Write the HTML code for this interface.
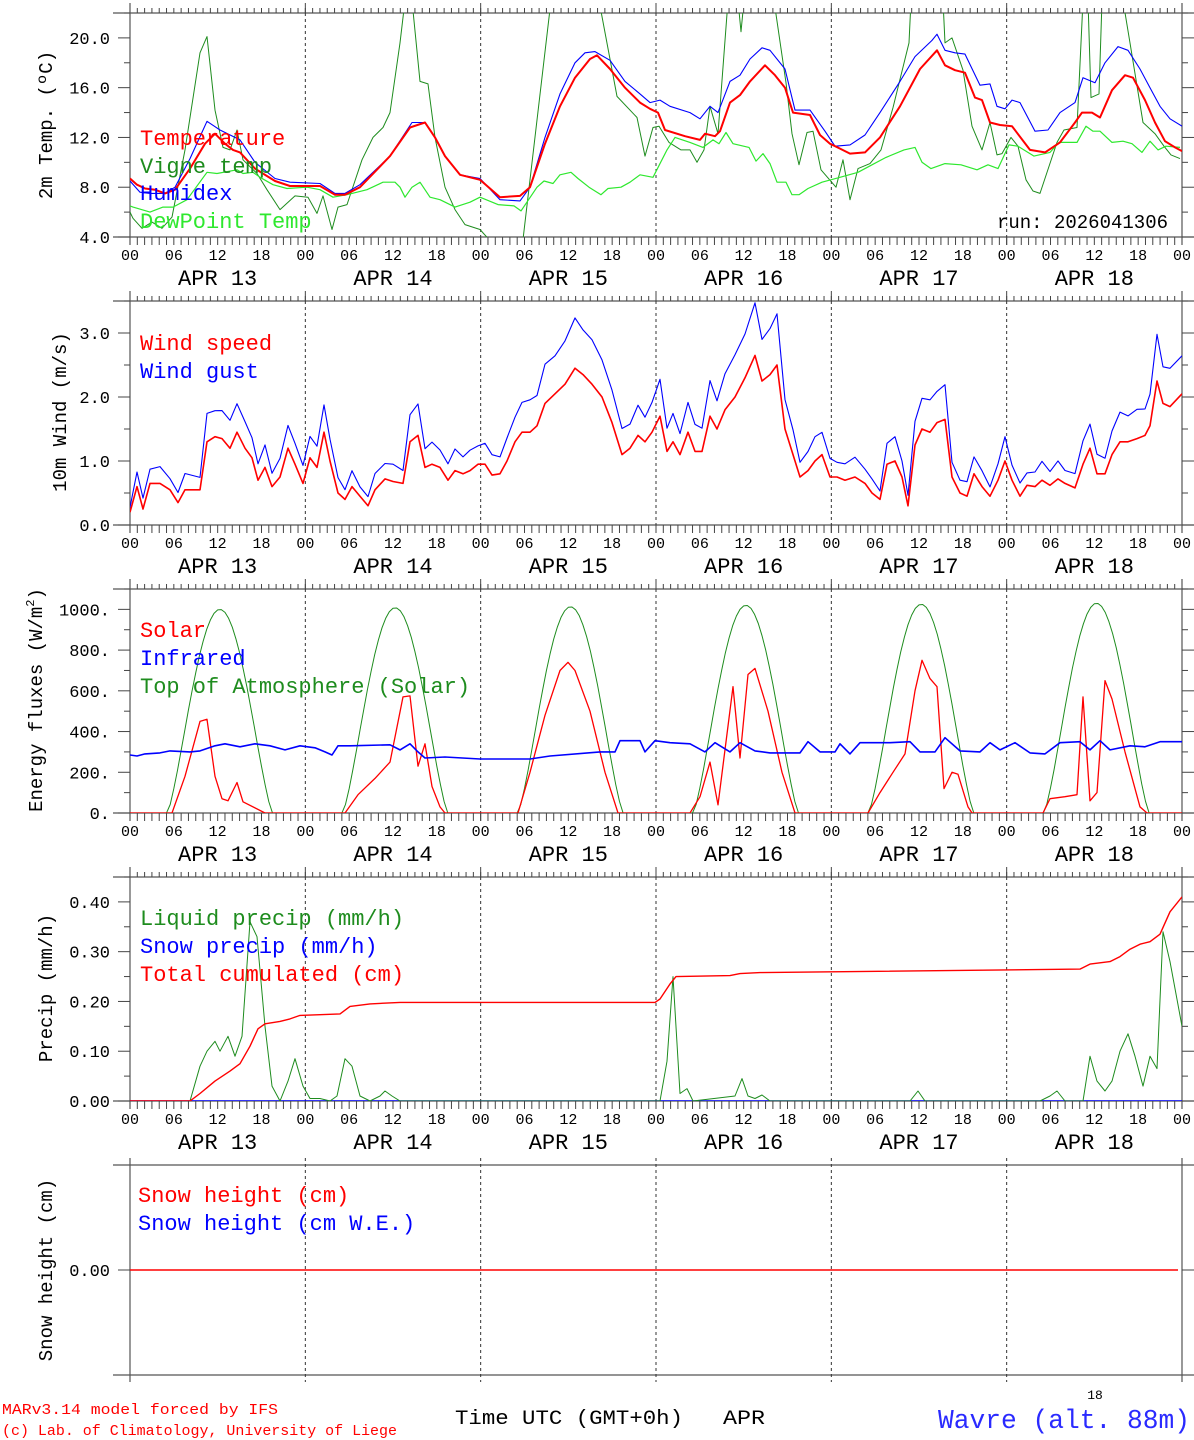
<!DOCTYPE html>
<html><head><meta charset="utf-8"><style>
html,body{margin:0;padding:0;background:#fff}
svg{display:block}
text{font-family:"Liberation Mono","DejaVu Sans Mono",monospace}
</style></head><body>
<svg id="s" xmlns="http://www.w3.org/2000/svg" width="1194" height="1440" viewBox="0 0 1194 1440"></svg>
<script>
const S=document.getElementById('s');const NS='http://www.w3.org/2000/svg';
let out='';
const X0=130,X1=1182,HW=(X1-X0)/144;
function L(x1,y1,x2,y2,st){out+=`<line x1="${x1}" y1="${y1}" x2="${x2}" y2="${y2}" style="${st||'stroke:#444;stroke-width:1'}"/>`;}
function T(x,y,t,sz,col,anch,extra){out+=`<text x="${x}" y="${y}" font-size="${sz}" fill="${col||'#000'}" text-anchor="${anch||'start'}" ${extra||''}>${t}</text>`;}
function frame(top,bot,hourly,labels){
  L(113,top,1194,top,'stroke:#555;stroke-width:1.2');L(113,bot,1194,bot,'stroke:#555;stroke-width:1.2');
  L(X0,top-10,X0,bot+8,'stroke:#555;stroke-width:1.2');L(X1,top-10,X1,bot+8,'stroke:#555;stroke-width:1.2');
  for(let d=1;d<6;d++){const x=X0+d*24*HW;L(x,top,x,bot,'stroke:#333;stroke-width:1;stroke-dasharray:3,3');L(x,top-10,x,top,'stroke:#444');L(x,bot,x,bot+8,'stroke:#444');}
  if(hourly){for(let h=1;h<144;h++){const x=X0+h*HW;L(x,top-5,x,top,'stroke:#444;stroke-width:1');L(x,bot,x,bot+8,'stroke:#444;stroke-width:1');}}
  if(labels){
    const hl=['00','06','12','18'];
    for(let h=0;h<=144;h+=6){T(X0+h*HW,bot+23,hl[(h/6)%4],15,'#000','middle');}
    for(let d=0;d<6;d++){T(X0+(d*24+12)*HW,bot+48,'APR 1'+(3+d),22,'#000','middle');}
  }
}
function yticks(top,bot,vmin,vmax,major,minor,fmt,fs){
  const Y=v=>bot-(v-vmin)/(vmax-vmin)*(bot-top);
  for(let v=vmin;v<=vmax+1e-9;v+=minor){const y=Y(v);if(y<top-0.5)continue;
    const isMaj=Math.abs(v/major-Math.round(v/major))<1e-6;
    L(isMaj?118:124,y,X0,y,'stroke:#444');L(X1,y,isMaj?1194:1188,y,'stroke:#444');
    if(isMaj&&fmt)T(110,y+6,fmt(v),fs||17,'#000','end');}
  return Y;
}
function line(pts,Y,col,w,clipId){
  let d='';pts.forEach((p,i)=>{d+=(i?'L':'M')+p[0].toFixed(1)+','+Y(p[1]).toFixed(1);});
  out+=`<path d="${d}" fill="none" stroke="${col}" stroke-width="${w}" stroke-linejoin="round" ${clipId?`clip-path="url(#${clipId})"`:''}/>`;
}
function clip(id,top,bot){out+=`<clipPath id="${id}"><rect x="${X0}" y="${top}" width="${X1-X0}" height="${bot-top}"/></clipPath>`;}
function P(a){const r=[];for(let i=0;i<a.length;i+=2)r.push([a[i],a[i+1]]);return r;}

// ---------- Panel 1 ----------
let t1=13,b1=237;frame(t1,b1,true,true);clip('c1',t1,b1);
// Y: 4 at 237, 20 at 38 -> vmax 22 at ~13
let Y1=yticks(t1,b1,4,22.0,4,2,v=>v.toFixed(1),17);
const vigne=P([130,6.0,133,5.5,142,4.7,152,5.2,162,4.7,172,5.6,185,11,200,18.8,207,20.1,215,14.2,223,11.2,230,11.0,237,12.6,243,10.2,257,9.1,267,7.8,280,6.2,295,7.3,308,7.2,317,5.9,323,7.3,332,4.6,338,6.4,347,6.6,362,10.2,373,12.0,383,12.8,390,14.0,400,19.6,405,23,412,23,420,16.5,428,16.3,435,12,445,8,455,6.2,465,5.0,480,4.6,489,3.8,523,3.8,551,23,599,23,617,15.3,637,13.6,645,10.5,653,12.8,659,12.9,669,11.6,681,11.0,690,11.0,697,10.0,704,11.0,710,14.5,718,12.3,728,23,738,23,741,20.5,744,23,774,23,786,16.4,792,12.3,799,9.8,807,12.4,813,12.5,821,9.4,836,8.0,843,10.2,850,7.0,858,9.5,870,9.9,881,11.0,893,14.4,909,19.6,911,23,943,23,945,19.6,952,20.0,963,17.4,972,12.9,982,11.0,990,13.2,997,10.6,1002,10.7,1011,12.0,1018,11.3,1026,8.6,1033,7.7,1040,7.5,1057,11.6,1064,12.6,1077,12.8,1083,23,1088,23,1091,15.2,1099,15.5,1102,23,1123,23,1130,19.6,1143,13.2,1155,12.3,1164,11.3,1171,10.6,1180,10.3]);
const dew=P([130,6.5,133,6.4,150,6.0,163,6.4,173,6.4,187,7.0,207,9.2,217,9.1,237,9.4,243,9.1,253,9.2,260,8.8,273,8.2,287,7.9,307,8.0,320,7.8,333,7.2,347,7.4,367,7.8,383,8.4,395,8.4,400,8.0,405,7.2,412,8.0,420,8.4,430,7.2,440,7.0,455,6.4,470,6.8,480,7.2,498,6.6,514,6.5,521,6.1,537,8.0,544,8.5,553,8.3,560,9.0,571,9.2,578,8.7,589,8.0,601,7.4,608,7.9,621,8.0,630,8.4,640,9.0,653,8.8,667,11.0,675,12.0,690,11.6,703,11.2,713,11.8,719,11.5,726,12.4,733,11.5,749,11.2,756,10.1,763,10.7,770,9.9,777,8.4,786,8.4,792,7.4,799,7.4,808,7.9,822,8.4,840,8.8,858,9.2,872,9.8,886,10.4,904,11.0,915,11.2,922,10.0,931,9.5,945,9.9,961,9.8,977,9.4,988,9.8,998,9.5,1009,11.4,1018,11.3,1034,10.5,1050,10.8,1059,11.6,1077,11.6,1086,12.9,1093,12.5,1100,12.5,1112,11.6,1123,11.7,1132,11.5,1142,10.8,1150,11.7,1158,11.0,1166,11.3,1180,11.2]);
const temp=P([130,8.7,137,8.2,145,7.9,155,7.8,165,7.5,175,7.8,190,9.5,205,11.5,215,12.3,225,11.5,233,11.0,240,10.8,255,9.5,275,8.5,290,8.1,320,8.1,335,7.4,345,7.4,360,8.0,390,10.5,410,12.8,425,13.2,435,12.0,445,10.5,460,9.0,480,8.6,500,7.2,520,7.3,530,8.0,545,11.5,560,14.5,575,16.8,590,18.3,597,18.6,610,17.5,625,16.0,640,14.8,650,14.3,658,14.0,665,12.6,685,12.1,700,11.8,705,12.3,715,12.1,720,12.5,730,14.8,740,15.4,750,16.5,765,17.8,775,17.0,785,16.0,793,14.0,810,13.8,820,12.2,830,11.5,840,11.1,850,10.7,865,10.8,880,12.0,900,14.5,920,17.5,937,19.0,945,17.8,955,17.4,965,17.2,975,15.2,982,15.0,990,13.2,1000,13.0,1012,12.9,1030,11.0,1045,10.8,1060,11.6,1075,13.2,1082,14.0,1092,14.0,1100,13.6,1112,15.8,1125,17.0,1133,16.8,1145,15.0,1155,13.2,1165,11.7,1175,11.2,1182,10.9]);
const hum=P([130,8.5,140,7.6,150,7.5,165,7.5,175,8.0,190,10.3,207,13.3,220,12.6,240,11.8,255,10.0,275,8.7,290,8.4,320,8.3,335,7.5,345,7.5,360,8.2,390,10.5,412,13.2,425,13.2,435,12.0,445,10.5,460,9.0,480,8.7,500,7.0,520,6.9,530,8.0,545,12.0,560,15.5,575,18.0,585,18.8,595,18.9,610,18.2,625,16.5,640,15.5,650,14.8,660,15.0,670,14.5,690,14.0,700,13.5,710,14.5,718,14.0,730,16.5,740,17.0,750,18.3,762,19.2,770,19.0,785,17.5,795,14.2,810,14.2,825,12.5,835,11.3,850,11.4,865,12.2,880,14.0,900,16.5,915,18.5,932,19.8,937,20.3,945,19.0,955,18.8,965,18.7,980,16.2,990,16.3,997,14.5,1005,14.3,1012,15.0,1020,14.8,1035,12.5,1048,12.6,1060,14.0,1075,14.8,1083,16.8,1095,16.4,1105,18.0,1118,19.3,1128,19.0,1140,17.5,1150,16.0,1160,14.5,1170,13.5,1182,12.9]);
line(vigne,Y1,'#1e8c1e',1,'c1');line(dew,Y1,'#2ee82e',1.2,'c1');line(hum,Y1,'#0000ff',1.1,'c1');line(temp,Y1,'#ff0000',2,'c1');
T(140,145,'Temperature',22,'#ff0000');T(140,173,'Vigne temp',22,'#1e8c1e');T(140,200,'Humidex',22,'#0000ff');T(140,228,'DewPoint Temp',22,'#2ee82e');
T(1168,228,'run: 2026041306',19,'#000','end');
T(0,0,'2m Temp. (ºC)',19,'#000','middle','transform="translate(52,125) rotate(-90)"');

// ---------- Panel 2 ----------
let t2=301,b2=525;frame(t2,b2,true,true);clip('c2',t2,b2);
let Y2=yticks(t2,b2,0,3.5,1,0.5,v=>v.toFixed(1),17);
const ws=P([130,0.2,137,0.6,143,0.25,150,0.65,160,0.65,170,0.55,178,0.35,185,0.55,200,0.55,207,1.3,215,1.38,222,1.35,230,1.2,237,1.45,245,1.2,252,1.05,258,0.7,265,0.9,272,0.6,280,0.75,288,1.2,295,0.95,303,0.65,310,1.05,317,0.9,324,1.45,330,1.0,338,0.5,345,0.4,352,0.6,360,0.45,368,0.3,375,0.55,385,0.72,393,0.68,403,0.65,410,1.3,418,1.4,425,0.9,432,0.95,440,0.9,448,0.7,455,0.85,463,0.8,470,0.85,478,0.95,485,0.95,492,0.78,500,0.8,507,1.0,515,1.3,522,1.45,530,1.45,537,1.55,545,1.9,555,2.05,565,2.2,575,2.45,583,2.35,592,2.2,602,2.0,612,1.6,622,1.1,630,1.2,638,1.4,645,1.3,652,1.45,660,1.7,667,1.15,673,1.3,680,1.1,688,1.45,695,1.15,702,1.15,710,1.7,717,1.5,725,1.8,735,2.0,745,2.3,755,2.65,762,2.25,770,2.35,777,2.5,785,1.5,793,1.1,800,0.75,808,0.85,815,1.0,822,1.1,830,0.75,837,0.75,845,0.7,855,0.75,865,0.65,872,0.5,880,0.4,887,0.95,895,1.0,902,0.75,908,0.3,915,1.25,922,1.5,930,1.45,937,1.6,945,1.65,952,0.75,960,0.5,967,0.45,974,0.8,982,0.6,990,0.45,998,0.7,1005,1.0,1012,0.7,1020,0.45,1027,0.62,1035,0.6,1042,0.7,1050,0.62,1058,0.72,1065,0.65,1075,0.58,1083,0.95,1090,1.2,1097,0.8,1105,0.8,1112,1.1,1120,1.3,1128,1.3,1137,1.35,1145,1.4,1150,1.55,1157,2.25,1163,1.9,1170,1.85,1182,2.05]);
const gust=ws.map((p,i)=>[p[0],p[1]*1.28+0.06+((i*37)%5-2)*0.02]);
line(gust,Y2,'#0000ff',1.1,'c2');line(ws,Y2,'#ff0000',1.6,'c2');
T(140,350,'Wind speed',22,'#ff0000');T(140,378,'Wind gust',22,'#0000ff');
T(0,0,'10m Wind (m/s)',19,'#000','middle','transform="translate(66,412) rotate(-90)"');

// ---------- Panel 3 ----------
let t3=589,b3=813;frame(t3,b3,true,true);clip('c3',t3,b3);
let Y3=yticks(t3,b3,0,1100,200,100,v=>v.toFixed(0)+'.',17);
const toa=[];const peaks=[1000,1008,1013,1020,1025,1030];
for(let h=0;h<=144;h+=0.5){const d=Math.floor(h/24),hh=h-d*24;const c=Math.cos((hh-12.3)/7.2*Math.PI/2);let v=(Math.abs(hh-12.3)<7.2)?peaks[Math.min(d,5)]*Math.pow(c,1.3):0;toa.push([X0+h*HW,v]);}
const sol=P([130,0,172,0,185,180,200,450,207,460,215,180,222,70,228,60,237,150,243,55,265,0,345,0,358,90,375,170,390,250,403,570,410,575,418,230,425,340,432,130,440,30,445,0,518,0,530,200,545,480,560,700,568,740,575,700,590,500,605,200,618,0,690,0,700,80,710,250,718,40,733,620,740,270,748,680,755,710,768,500,782,200,795,0,868,0,880,100,893,200,905,290,915,600,922,750,930,660,937,620,944,120,952,200,958,190,968,30,972,0,1043,0,1050,70,1065,80,1077,90,1083,570,1090,60,1097,100,1105,650,1112,560,1125,300,1140,30,1147,0,1182,0]);
const ir=P([130,285,137,280,145,290,160,295,170,305,190,300,200,305,215,330,225,340,240,325,255,340,270,330,285,310,300,330,315,320,325,300,332,285,338,330,350,330,390,335,400,310,410,340,418,300,425,270,445,275,480,265,530,265,550,280,600,300,615,300,620,355,640,355,645,300,655,355,670,345,690,340,705,300,715,345,730,300,740,345,755,305,770,295,800,295,808,350,820,300,835,300,840,340,850,290,860,345,890,345,910,350,920,300,935,300,945,370,960,305,980,300,990,345,1000,310,1015,345,1030,295,1045,290,1060,345,1080,350,1090,310,1100,355,1110,310,1130,330,1145,325,1160,350,1182,350]);
line(toa,Y3,'#1e8c1e',1,'c3');line(sol,Y3,'#ff0000',1.3,'c3');line(ir,Y3,'#0000ff',1.6,'c3');
T(140,637,'Solar',22,'#ff0000');T(140,665,'Infrared',22,'#0000ff');T(140,693,'Top of Atmosphere (Solar)',22,'#1e8c1e');
T(0,0,'Energy fluxes (W/m<tspan font-size="12" dy="-8">2</tspan><tspan dy="8">)</tspan>',19,'#000','middle','transform="translate(42,700) rotate(-90)"');

// ---------- Panel 4 ----------
let t4=877,b4=1101;frame(t4,b4,true,true);clip('c4',t4,b4);
let Y4=yticks(t4,b4,0,0.45,0.1,0.05,v=>v.toFixed(2),17);
const liq=P([130,0,190,0,200,0.07,207,0.1,215,0.12,220,0.1,228,0.13,235,0.09,242,0.13,250,0.36,257,0.33,265,0.15,272,0.03,280,0.0,288,0.04,295,0.085,303,0.03,310,0.005,320,0.005,330,0.0,337,0.01,345,0.085,352,0.07,360,0.01,370,0.0,380,0.01,385,0.02,392,0.01,400,0.0,660,0.0,667,0.08,673,0.25,680,0.015,687,0.025,693,0.0,735,0.01,742,0.045,748,0.01,755,0.005,762,0.012,770,0.0,910,0.0,918,0.02,925,0.0,1040,0.0,1050,0.01,1057,0.02,1065,0.0,1083,0.0,1090,0.09,1097,0.04,1105,0.02,1112,0.04,1120,0.1,1128,0.135,1135,0.09,1143,0.03,1150,0.09,1157,0.065,1163,0.34,1170,0.28,1182,0.15]);
const cum=P([130,0,190,0,200,0.015,215,0.04,230,0.06,240,0.075,250,0.11,258,0.145,265,0.155,280,0.16,290,0.165,300,0.172,340,0.175,350,0.19,370,0.195,400,0.198,655,0.198,660,0.205,670,0.235,676,0.25,730,0.252,740,0.256,760,0.258,1080,0.265,1090,0.275,1110,0.28,1120,0.29,1130,0.305,1140,0.315,1150,0.32,1160,0.335,1170,0.38,1182,0.41]);
line([[130,0],[1182,0]],Y4,'#0000ff',1.5,'c4');line(liq,Y4,'#1e8c1e',1,'c4');line(cum,Y4,'#ff0000',1.4,'c4');
T(140,925,'Liquid precip (mm/h)',22,'#1e8c1e');T(140,953,'Snow precip (mm/h)',22,'#0000ff');T(140,981,'Total cumulated (cm)',22,'#ff0000');
T(0,0,'Precip (mm/h)',19,'#000','middle','transform="translate(52,988) rotate(-90)"');

// ---------- Panel 5 ----------
let t5=1165,b5=1375;
L(113,t5,1194,t5,'stroke:#555;stroke-width:1.2');L(113,b5,1194,b5,'stroke:#555;stroke-width:1.2');
L(X0,t5-7,X0,b5+7,'stroke:#555;stroke-width:1.2');L(X1,t5-7,X1,b5+7,'stroke:#555;stroke-width:1.2');
for(let d=1;d<6;d++){const x=X0+d*24*HW;L(x,t5-7,x,b5+7,'stroke:#333;stroke-width:1;stroke-dasharray:3,3');}
L(118,1270,X0,1270,'stroke:#444');L(X1,1270,1194,1270,'stroke:#444');
T(110,1276,'0.00',17,'#000','end');
L(X0,1270,1178,1270,'stroke:#ff0000;stroke-width:1.6');
T(138,1202,'Snow height (cm)',22,'#ff0000');T(138,1230,'Snow height (cm W.E.)',22,'#0000ff');
T(0,0,'Snow height (cm)',19,'#000','middle','transform="translate(52,1270) rotate(-90)"');

// ---------- Footer ----------
T(2,1414,'MARv3.14 model forced by IFS',15,'#ff0000','start','textLength="276" lengthAdjust="spacingAndGlyphs"');
T(2,1435,'(c) Lab. of Climatology, University of Liege',15,'#ff0000','start','textLength="395" lengthAdjust="spacingAndGlyphs"');
T(455,1424,'Time UTC (GMT+0h)',20,'#000','start','textLength="228" lengthAdjust="spacingAndGlyphs"');
T(723,1424,'APR',20,'#000','start','textLength="42" lengthAdjust="spacingAndGlyphs"');
T(1095,1399,'18',13,'#000','middle');
T(1190,1428,'Wavre (alt. 88m)',27,'#2a2aff','end','textLength="252" lengthAdjust="spacingAndGlyphs"');
S.innerHTML=out;
</script>
</body></html>
